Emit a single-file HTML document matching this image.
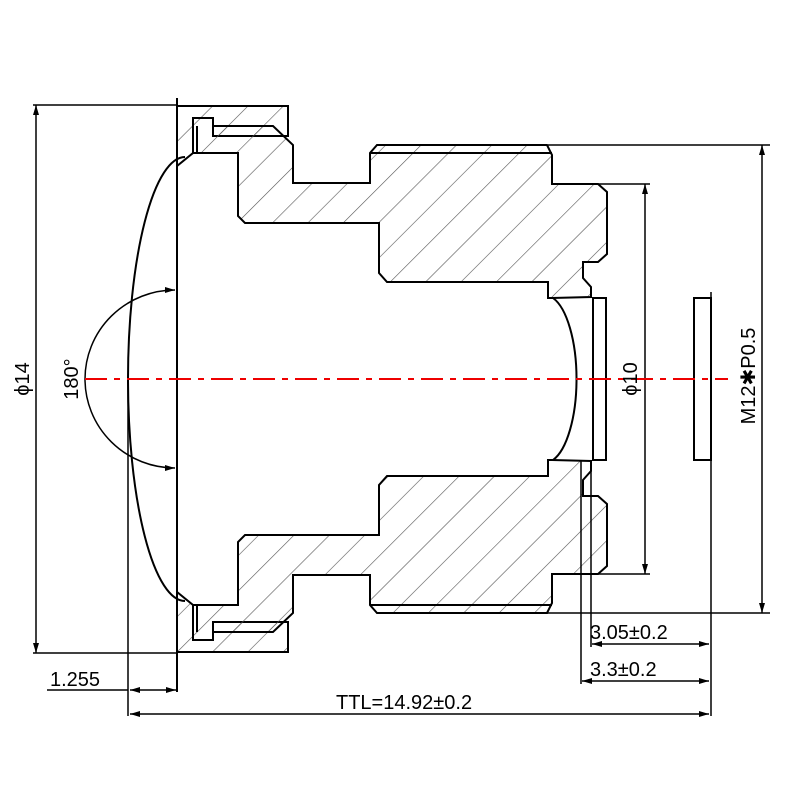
<!DOCTYPE html>
<html><head><meta charset="utf-8"><style>html,body{margin:0;padding:0;background:#fff}svg{display:block}</style></head>
<body>
<svg width="800" height="800" viewBox="0 0 800 800" xmlns="http://www.w3.org/2000/svg" font-family="Liberation Sans, sans-serif">
<defs>
<pattern id="h1" width="25" height="25" patternUnits="userSpaceOnUse" patternTransform="rotate(45)"><line x1="0" y1="0" x2="0" y2="25" stroke="#555" stroke-width="1.2"/></pattern>
<pattern id="h2" width="25" height="25" patternUnits="userSpaceOnUse" patternTransform="rotate(-45)"><line x1="0" y1="0" x2="0" y2="25" stroke="#555" stroke-width="1.2"/></pattern>
<marker id="a" viewBox="0 0 10 6" refX="10" refY="3" markerWidth="10" markerHeight="6" markerUnits="userSpaceOnUse" orient="auto-start-reverse"><path d="M0,0L10,3L0,6z" fill="#000"/></marker>
<g id="half">
<polygon points="177,106 288,106 288,136 213,136 213,118 193,118 193,153 177,166" />
<polygon points="193,153 238,153 238,216 245,223 379,223 379,273 387,282 548,282 548,298 552,298 591,297 591,287 583,278 583,262 598,262 607,254 607,192 598,184 552,184 552,155 547,145 377,145 370,153 370,183 293,183 293,145 273,126 213,126 213,118 193,118" />
</g>
</defs>
<g stroke="#000" stroke-width="2" fill="none">
<use href="#half" fill="url(#h1)"/>
<use href="#half" fill="url(#h2)" transform="matrix(1,0,0,-1,0,758)"/>
<line x1="370" y1="153" x2="552" y2="153"/><line x1="370" y1="605" x2="552" y2="605"/>
<line x1="197" y1="126" x2="197" y2="153"/><line x1="197" y1="632" x2="197" y2="605"/>
<path d="M185,157 A57,222 0 0 0 185,601"/>
<line x1="177" y1="98" x2="177" y2="692"/>
<line x1="128" y1="379" x2="128" y2="716" stroke-width="1.5"/>
<path d="M553,298 A32,84 0 0 1 553,460"/>
<rect x="593" y="298" width="13" height="162"/>
<rect x="694" y="298" width="17" height="162"/>
</g>
<g stroke="#000" stroke-width="1.5" fill="none">
<path d="M175,290 A90,89 0 0 0 175,468" marker-start="url(#a)" marker-end="url(#a)"/>
<line x1="33" y1="105" x2="177" y2="105"/><line x1="33" y1="653" x2="177" y2="653"/>
<line x1="36" y1="105" x2="36" y2="653" marker-start="url(#a)" marker-end="url(#a)"/>
<line x1="548" y1="145" x2="770" y2="145"/><line x1="540" y1="613" x2="770" y2="613"/>
<line x1="762" y1="145" x2="762" y2="613" marker-start="url(#a)" marker-end="url(#a)"/>
<line x1="552" y1="184" x2="650" y2="184"/><line x1="552" y1="574" x2="650" y2="574"/>
<line x1="645" y1="184" x2="645" y2="574" marker-start="url(#a)" marker-end="url(#a)"/>
<line x1="591" y1="460" x2="591" y2="647"/>
<line x1="581" y1="460" x2="581" y2="684"/>
<line x1="711" y1="292" x2="711" y2="716"/>
<line x1="592" y1="644" x2="709" y2="644" marker-start="url(#a)" marker-end="url(#a)"/>
<line x1="582" y1="681" x2="709" y2="681" marker-start="url(#a)" marker-end="url(#a)"/>
<line x1="47" y1="690" x2="128" y2="690"/>
<line x1="130" y1="690" x2="176" y2="690" marker-start="url(#a)" marker-end="url(#a)"/>
<line x1="130" y1="714" x2="709" y2="714" marker-start="url(#a)" marker-end="url(#a)"/>
</g>
<line x1="85" y1="379" x2="728" y2="379" stroke="#e00" stroke-width="2" stroke-dasharray="22,7,6,7"/>
<g font-size="20" fill="#000">
<text x="50" y="686">1.255</text>
<text x="336" y="709">TTL=14.92±0.2</text>
<text x="590" y="639">3.05±0.2</text>
<text x="590" y="676">3.3±0.2</text>
<text transform="translate(29,379) rotate(-90)" text-anchor="middle">ϕ14</text>
<text transform="translate(78,379) rotate(-90)" text-anchor="middle">180°</text>
<text transform="translate(637,379) rotate(-90)" text-anchor="middle">ϕ10</text>
<text transform="translate(755,376) rotate(-90)" text-anchor="middle">M12✱P0.5</text>
</g>
</svg>
</body></html>
